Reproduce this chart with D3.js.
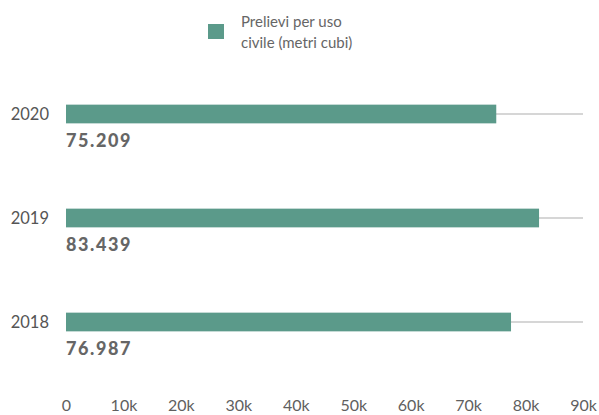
<!DOCTYPE html>
<html><head><meta charset="utf-8">
<script src="https://cdn.jsdelivr.net/npm/d3@7"></script>
<style>body{margin:0;background:#fff;} text{font-family:Lato, "Open Sans", sans-serif;}</style>
</head><body><svg id="c" width="599" height="415"></svg>
<script>
const years = ["2020","2019","2018"];
const values = [74900, 82350, 77470];
const valueLabels = ["75.209","83.439","76.987"];
const tickValues = [0,10000,20000,30000,40000,50000,60000,70000,80000,90000];
const tickLabels = ["0","10k","20k","30k","40k","50k","60k","70k","80k","90k"];
const legendLines = ["Prelievi per uso","civile (metri cubi)"];

const svg = d3.select("#c");
const x = d3.scaleLinear().domain([0,90000]).range([66,583]);
const y = d3.scaleBand().domain(years).range([62,374]).paddingInner(0.82).paddingOuter(0.41);
const color = "#5b9a8a";

svg.selectAll(".track").data(years).enter().append("line")
  .attr("x1", x(0)).attr("x2", x(90000))
  .attr("y1", d=>y(d)+y.bandwidth()/2).attr("y2", d=>y(d)+y.bandwidth()/2)
  .attr("stroke","#d6d6d6").attr("stroke-width",2);

svg.selectAll(".bar").data(values).enter().append("rect")
  .attr("x", x(0)).attr("y",(d,i)=>y(years[i]))
  .attr("width", d=>x(d)-x(0)).attr("height", y.bandwidth())
  .attr("fill", color);

svg.selectAll(".yl").data(years).enter().append("text")
  .attr("x", 49).attr("y", d=>y(d)+y.bandwidth()/2).attr("dy","0.36em")
  .attr("text-anchor","end").attr("fill","#555").attr("font-size",16.5).text(d=>d);

svg.selectAll(".vl").data(valueLabels).enter().append("text")
  .attr("x", 66).attr("y",(d,i)=>y(years[i])+y.bandwidth()+24)
  .attr("fill","#666").attr("font-size",18).attr("font-weight","900")
  .attr("letter-spacing","1.6px").text(d=>d);

const axis = d3.axisBottom(x).tickValues(tickValues).tickFormat((d,i)=>tickLabels[i]).tickSize(0).tickPadding(0);
const g = svg.append("g").attr("transform","translate(0,400)").call(axis);
g.select(".domain").remove();
g.selectAll("text").attr("fill","#5f5f5f").attr("font-size",16).style("font-family","Lato, sans-serif");

svg.append("rect").attr("x",208).attr("y",24).attr("width",16).attr("height",15).attr("fill",color);
svg.selectAll(".lg").data(legendLines).enter().append("text")
  .attr("x",241).attr("y",(d,i)=>27+i*21).attr("fill","#666").attr("font-size",15).text(d=>d);
</script></body></html>
